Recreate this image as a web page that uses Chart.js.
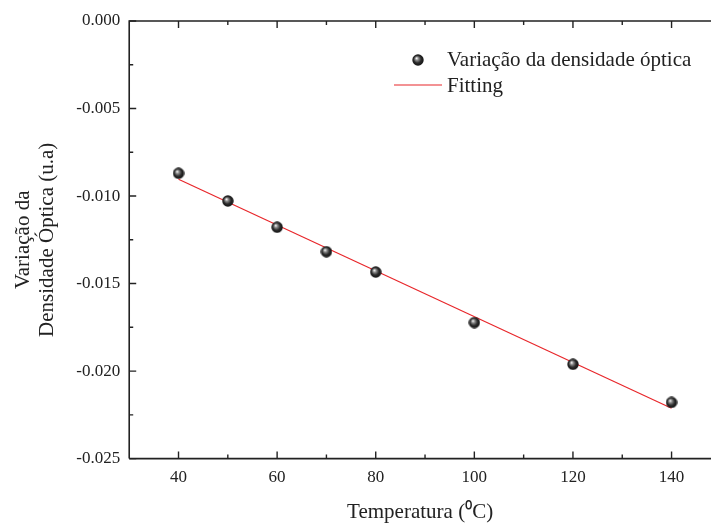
<!DOCTYPE html>
<html>
<head>
<meta charset="utf-8">
<script src="https://cdn.jsdelivr.net/npm/chart.js@4/dist/chart.umd.min.js"></script>
<style>
  html, body { margin: 0; padding: 0; background: #fff; }
  #wrap { width: 711px; height: 523px; }
</style>
</head>
<body>
<div id="wrap"><canvas id="chart" width="711" height="523"></canvas></div>
<script>
// dados
const temperaturas = [40, 50, 60, 70, 80, 100, 120, 140];
const variacao = [-0.0087, -0.01028, -0.01178, -0.01318, -0.01434, -0.01723, -0.01961, -0.02179];
const fitX = [40, 140];
const fitY = [-0.00904, -0.02212];
const xTicks = [40, 60, 80, 100, 120, 140];
const xMinor = [50, 70, 90, 110, 130];
const yTicks = [0, -0.005, -0.01, -0.015, -0.02, -0.025];
const yMinor = [-0.0025, -0.0075, -0.0125, -0.0175, -0.0225];

const serif = "'Liberation Serif', 'Times New Roman', serif";
const axisColor = "#222";

// esfera para os pontos
function makeSphere(d) {
  const c = document.createElement("canvas");
  c.width = d;
  c.height = d;
  const g = c.getContext("2d");
  const r = d / 2;
  const grad = g.createRadialGradient(r * 0.75, r * 0.7, 0.3, r, r, r);
  grad.addColorStop(0, "#f4f4f4");
  grad.addColorStop(0.25, "#8a8a8a");
  grad.addColorStop(0.6, "#2a2a2a");
  grad.addColorStop(1, "#111");
  g.fillStyle = grad;
  g.beginPath();
  g.arc(r, r, r - 0.3, 0, Math.PI * 2);
  g.fill();
  return c;
}
const sphere = makeSphere(12);

// ticks para dentro + eixo superior
const frameTicks = {
  id: "frameTicks",
  afterDraw(chart) {
    const { ctx, chartArea: a, scales } = chart;
    const x = scales.x, y = scales.y;
    ctx.save();
    ctx.strokeStyle = axisColor;
    ctx.lineWidth = 1.6;
    ctx.beginPath();
    ctx.moveTo(a.left, a.bottom);
    ctx.lineTo(a.right, a.bottom);
    ctx.moveTo(a.left, a.bottom);
    ctx.lineTo(a.left, a.top);
    ctx.lineTo(a.right, a.top);
    ctx.stroke();
    ctx.lineWidth = 1.4;
    ctx.beginPath();
    const tx = (v, len) => {
      const px = x.getPixelForValue(v);
      ctx.moveTo(px, a.bottom);
      ctx.lineTo(px, a.bottom - len);
      ctx.moveTo(px, a.top);
      ctx.lineTo(px, a.top + len);
    };
    const ty = (v, len) => {
      const py = y.getPixelForValue(v);
      ctx.moveTo(a.left, py);
      ctx.lineTo(a.left + len, py);
    };
    xTicks.forEach(v => tx(v, 7));
    xMinor.forEach(v => tx(v, 4));
    yTicks.forEach(v => ty(v, 7));
    yMinor.forEach(v => ty(v, 4));
    ctx.stroke();
    ctx.restore();
  }
};

// legenda dentro do grafico
const innerLegend = {
  id: "innerLegend",
  afterDraw(chart) {
    const ctx = chart.ctx;
    const ds = chart.data.datasets;
    ctx.save();
    ctx.font = "21px " + serif;
    ctx.fillStyle = "#222";
    ctx.textBaseline = "middle";
    ctx.drawImage(sphere, 418 - 6, 60 - 6, 12, 12);
    ctx.fillText(ds[0].label, 447, 60);
    ctx.strokeStyle = "#e8262a";
    ctx.lineWidth = 1.2;
    ctx.beginPath();
    ctx.moveTo(394, 85);
    ctx.lineTo(442, 85);
    ctx.stroke();
    ctx.fillText(ds[1].label, 447, 86);
    ctx.restore();
  }
};

new Chart(document.getElementById("chart"), {
  type: "scatter",
  data: {
    datasets: [
      {
        label: "Variação da densidade óptica",
        data: temperaturas.map((t, i) => ({ x: t, y: variacao[i] })),
        pointStyle: sphere,
        pointRadius: 6,
        order: 1,
      },
      {
        label: "Fitting",
        type: "line",
        data: fitX.map((t, i) => ({ x: t, y: fitY[i] })),
        borderColor: "#e8262a",
        borderWidth: 1.2,
        pointRadius: 0,
        fill: false,
        order: 2,
      },
    ],
  },
  options: {
    responsive: false,
    animation: false,
    layout: { autoPadding: false, padding: { top: 21, right: 0, bottom: 0, left: 11 } },
    plugins: {
      legend: { display: false },
      tooltip: { enabled: false },
    },
    scales: {
      x: {
        type: "linear",
        min: 30,
        max: 148,
        afterBuildTicks: (s) => { s.ticks = xTicks.map(v => ({ value: v })); },
        grid: { display: false, drawTicks: false },
        border: { display: false },
        ticks: {
          color: "#222",
          padding: 9,
          font: { family: serif, size: 17 },
        },
        title: {
          display: true,
          text: "Temperatura (⁰C)",
          color: "#222",
          padding: { top: 5, bottom: 0 },
          font: { family: serif, size: 21, lineHeight: 1.0 },
        },
      },
      y: {
        type: "linear",
        min: -0.025,
        max: 0,
        afterBuildTicks: (s) => { s.ticks = yTicks.map(v => ({ value: v })); },
        grid: { display: false, drawTicks: false },
        border: { display: false },
        ticks: {
          color: "#222",
          padding: 9,
          font: { family: serif, size: 17 },
          callback: (v) => v.toFixed(3),
        },
        title: {
          display: true,
          text: ["Variação da", "Densidade Óptica (u.a)"],
          color: "#222",
          padding: { top: 0, bottom: 8 },
          font: { family: serif, size: 21, lineHeight: 1.15 },
        },
      },
    },
  },
  plugins: [frameTicks, innerLegend],
});
</script>
</body>
</html>
